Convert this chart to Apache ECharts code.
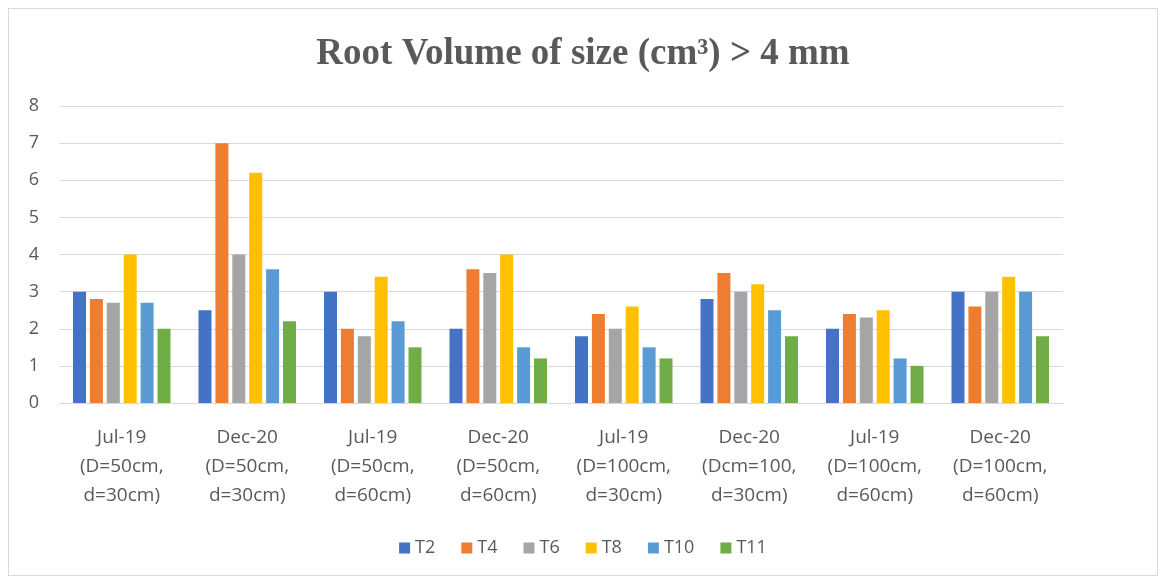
<!DOCTYPE html>
<html>
<head>
<meta charset="utf-8">
<script src="https://cdn.jsdelivr.net/npm/echarts@6/dist/echarts.min.js"></script>
<style>
  html, body { margin: 0; padding: 0; background: #fff; }
  #chart { position: absolute; left: 8px; top: 8px; width: 1150px; height: 568px; border: 1px solid #d9d9d9; box-sizing: border-box; }
</style>
</head>
<body>
<div id="chart"></div>
<script>
const categories = [
  'Jul-19\n(D=50cm,\nd=30cm)',
  'Dec-20\n(D=50cm,\nd=30cm)',
  'Jul-19\n(D=50cm,\nd=60cm)',
  'Dec-20\n(D=50cm,\nd=60cm)',
  'Jul-19\n(D=100cm,\nd=30cm)',
  'Dec-20\n(Dcm=100,\nd=30cm)',
  'Jul-19\n(D=100cm,\nd=60cm)',
  'Dec-20\n(D=100cm,\nd=60cm)'
]
const seriesNames = ['T2', 'T4', 'T6', 'T8', 'T10', 'T11']
const T2 = [3, 2.5, 3, 2, 1.8, 2.8, 2, 3]
const T4 = [2.8, 7, 2, 3.6, 2.4, 3.5, 2.4, 2.6]
const T6 = [2.7, 4, 1.8, 3.5, 2, 3, 2.3, 3]
const T8 = [4, 6.2, 3.4, 4, 2.6, 3.2, 2.5, 3.4]
const T10 = [2.7, 3.6, 2.2, 1.5, 1.5, 2.5, 1.2, 3]
const T11 = [2, 2.2, 1.5, 1.2, 1.2, 1.8, 1, 1.8]
const colors = ['#4472C4', '#ED7D31', '#A5A5A5', '#FFC000', '#5B9BD5', '#70AD47']

const allData = [T2, T4, T6, T8, T10, T11]

const chart = echarts.init(document.getElementById('chart'))
chart.setOption({
  animation: false,
  color: colors,
  title: {
    text: 'Root Volume of size (cm³) > 4 mm',
    left: 'center',
    top: 22,
    textStyle: { fontFamily: 'Liberation Serif', fontWeight: 'bold', fontSize: 37, color: '#595959' }
  },
  legend: {
    data: seriesNames,
    bottom: 13,
    left: 'center',
    itemWidth: 11,
    itemHeight: 11,
    itemGap: 26,
    icon: 'rect',
    textStyle: { fontFamily: 'Open Sans', fontSize: 18, color: '#595959' }
  },
  grid: { left: 50, right: 94, top: 97, bottom: 172 },
  xAxis: {
    type: 'category',
    data: categories,
    axisLine: { lineStyle: { color: '#d9d9d9' } },
    axisTick: { show: false },
    axisLabel: {
      interval: 0,
      margin: 20,
      lineHeight: 29,
      fontFamily: 'Open Sans',
      fontSize: 19,
      color: '#595959'
    }
  },
  yAxis: {
    type: 'value',
    min: 0,
    max: 8,
    interval: 1,
    axisLine: { show: false },
    axisTick: { show: false },
    splitLine: { lineStyle: { color: '#d9d9d9' } },
    axisLabel: { margin: 20, fontFamily: 'Open Sans', fontSize: 18, color: '#595959' }
  },
  series: seriesNames.map((name, i) => ({
    name: name,
    type: 'bar',
    data: allData[i],
    barWidth: 13,
    barGap: '30%'
  }))
})
</script>
</body>
</html>
